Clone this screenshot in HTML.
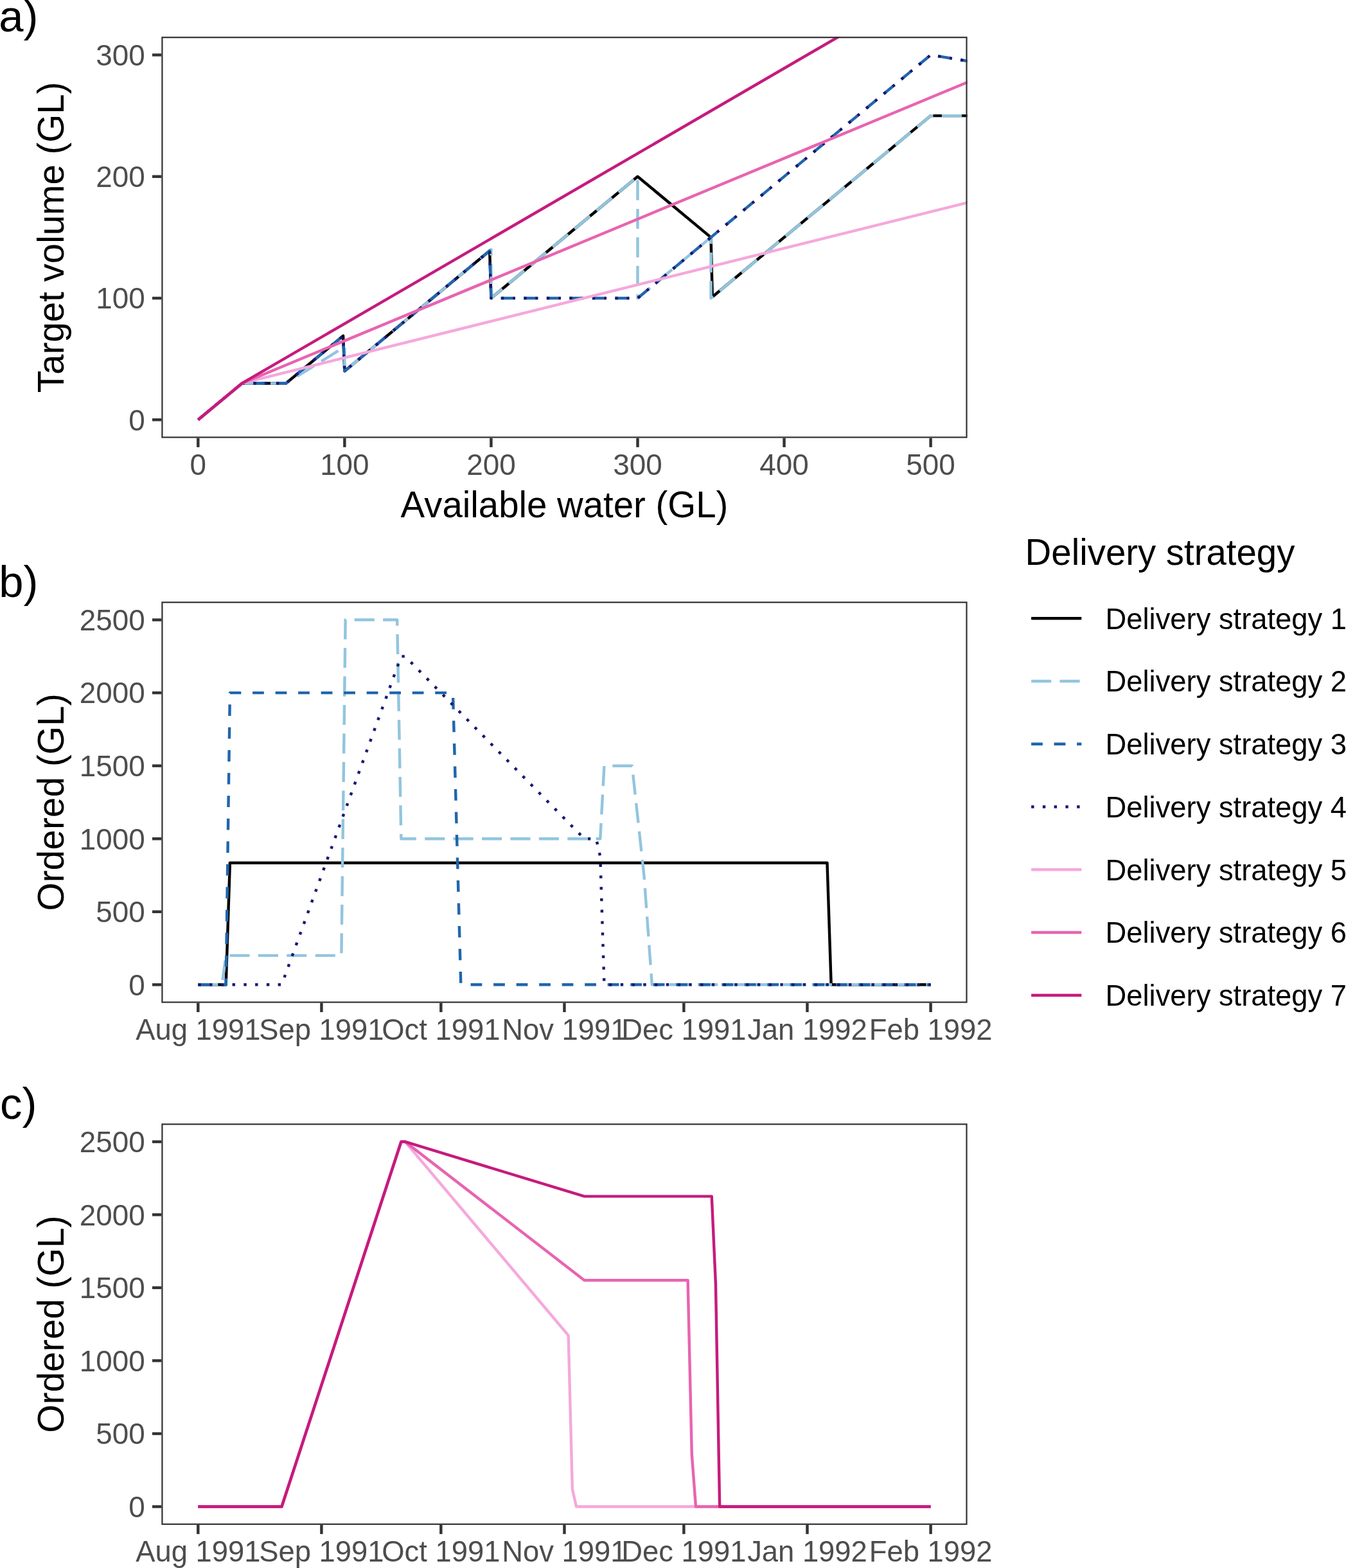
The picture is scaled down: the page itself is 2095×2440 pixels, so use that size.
<!DOCTYPE html>
<html><head><meta charset="utf-8"><title>Delivery strategy</title>
<style>html,body{margin:0;padding:0;background:#fff;}body{width:2095px;height:2440px;overflow:hidden;}svg{display:block;}text{font-family:"Liberation Sans",Arial,Helvetica,sans-serif;}</style>
</head><body>
<svg width="2095" height="2440" viewBox="0 0 2095 2440">
<rect x="0" y="0" width="2095" height="2440" fill="#ffffff"/>
<defs>
<clipPath id="clipa"><rect x="251.30" y="57.10" width="1254.30" height="624.50"/></clipPath>
<clipPath id="clipb"><rect x="251.30" y="936.20" width="1254.30" height="624.50"/></clipPath>
<clipPath id="clipc"><rect x="251.30" y="1748.30" width="1254.30" height="624.60"/></clipPath>
</defs>
<g clip-path="url(#clipa)" fill="none" stroke-width="4.44" stroke-linejoin="round" stroke-linecap="butt">
<path d="M308.31 653.21 L376.73 596.44 L445.15 596.44 L534.09 522.64 L536.37 577.52 L762.14 390.17 L764.42 463.97 L992.48 274.73 L1106.50 369.35 L1108.79 462.08 L1448.59 180.11 L1539.81 180.11" stroke="#000000"/>
<path d="M308.31 653.21 L376.73 596.44 L445.15 596.44 L536.37 539.67 L536.37 577.52 L764.42 388.27 L764.42 463.97 L992.48 274.73 L992.48 463.97 L1106.50 369.35 L1106.50 463.97 L1448.59 180.11 L1585.42 180.11" stroke="#92C5DE" stroke-dasharray="31.080 13.320"/>
<path d="M308.31 653.21 L376.73 596.44 L445.15 596.44 L534.09 522.64 L536.37 577.52 L762.14 390.17 L764.42 463.97 L992.48 463.97 L1448.59 85.49 L1539.81 100.63" stroke="#2166AC" stroke-dasharray="17.760 17.760"/>
<path d="M308.31 653.21 L376.73 596.44 L445.15 596.44 L534.09 522.64 L536.37 577.52 L762.14 390.17 L764.42 463.97 L992.48 463.97 L1448.59 85.49 L1539.81 100.63" stroke="#191970" stroke-dasharray="4.440 13.320"/>
<path d="M308.31 653.21 L376.73 596.44 L1585.42 295.55" stroke="#F5A8DC"/>
<path d="M308.31 653.21 L376.73 596.44 L1585.42 94.95" stroke="#E864B0"/>
<path d="M308.31 653.21 L376.73 596.44 L1585.42 -105.65" stroke="#C51B7D"/>
</g>
<g clip-path="url(#clipb)" fill="none" stroke-width="4.44" stroke-linejoin="round" stroke-linecap="butt">
<path d="M308.31 1532.31 L351.69 1532.31 L357.89 1342.69 L1287.46 1342.69 L1293.66 1532.31 L1448.59 1532.31" stroke="#000000"/>
<path d="M308.31 1532.31 L345.50 1532.31 L351.69 1486.90 L531.41 1486.90 L537.61 964.59 L618.17 964.59 L624.37 1305.22 L934.22 1305.22 L940.42 1191.68 L983.80 1191.68 L1002.39 1362.00 L1014.79 1532.31 L1448.59 1532.31" stroke="#92C5DE" stroke-dasharray="31.080 13.320"/>
<path d="M308.31 1532.31 L351.69 1532.31 L357.89 1078.13 L704.93 1078.13 L717.32 1532.31 L1448.59 1532.31" stroke="#2166AC" stroke-dasharray="17.760 17.760"/>
<path d="M308.31 1532.31 L438.45 1532.31 L624.37 1021.36 L630.56 1021.36 L909.44 1305.22 L928.03 1305.22 L934.22 1332.93 L940.42 1532.31 L1448.59 1532.31" stroke="#191970" stroke-dasharray="4.440 13.320"/>
</g>
<g clip-path="url(#clipc)" fill="none" stroke-width="4.44" stroke-linejoin="round" stroke-linecap="butt">
<path d="M308.31 2344.51 L438.45 2344.51 L624.37 1776.69 L630.56 1776.69 L884.65 2078.09 L890.84 2317.25 L897.04 2344.51 L1448.59 2344.51" stroke="#F5A8DC"/>
<path d="M308.31 2344.51 L438.45 2344.51 L624.37 1776.69 L630.56 1776.69 L909.44 1992.23 L1070.56 1992.23 L1076.76 2262.74 L1082.96 2344.51 L1448.59 2344.51" stroke="#E864B0"/>
<path d="M308.31 2344.51 L438.45 2344.51 L624.37 1776.69 L630.56 1776.69 L909.44 1861.64 L1107.74 1861.64 L1113.94 1998.14 L1120.14 2344.51 L1448.59 2344.51" stroke="#C51B7D"/>
</g>
<rect x="252.41" y="58.21" width="1252.08" height="622.28" fill="none" stroke="#333333" stroke-width="2.22"/>
<rect x="252.41" y="937.31" width="1252.08" height="622.28" fill="none" stroke="#333333" stroke-width="2.22"/>
<rect x="252.41" y="1749.41" width="1252.08" height="622.38" fill="none" stroke="#333333" stroke-width="2.22"/>
<line x1="237.00" y1="653.21" x2="251.30" y2="653.21" stroke="#333333" stroke-width="4.44"/>
<text x="225.70" y="669.51" font-size="45.83" fill="#4D4D4D" text-anchor="end">0</text>
<line x1="237.00" y1="463.97" x2="251.30" y2="463.97" stroke="#333333" stroke-width="4.44"/>
<text x="225.70" y="480.27" font-size="45.83" fill="#4D4D4D" text-anchor="end">100</text>
<line x1="237.00" y1="274.73" x2="251.30" y2="274.73" stroke="#333333" stroke-width="4.44"/>
<text x="225.70" y="291.03" font-size="45.83" fill="#4D4D4D" text-anchor="end">200</text>
<line x1="237.00" y1="85.49" x2="251.30" y2="85.49" stroke="#333333" stroke-width="4.44"/>
<text x="225.70" y="101.79" font-size="45.83" fill="#4D4D4D" text-anchor="end">300</text>
<line x1="308.31" y1="681.60" x2="308.31" y2="695.90" stroke="#333333" stroke-width="4.44"/>
<text x="308.31" y="738.80" font-size="45.83" fill="#4D4D4D" text-anchor="middle">0</text>
<line x1="536.37" y1="681.60" x2="536.37" y2="695.90" stroke="#333333" stroke-width="4.44"/>
<text x="536.37" y="738.80" font-size="45.83" fill="#4D4D4D" text-anchor="middle">100</text>
<line x1="764.42" y1="681.60" x2="764.42" y2="695.90" stroke="#333333" stroke-width="4.44"/>
<text x="764.42" y="738.80" font-size="45.83" fill="#4D4D4D" text-anchor="middle">200</text>
<line x1="992.48" y1="681.60" x2="992.48" y2="695.90" stroke="#333333" stroke-width="4.44"/>
<text x="992.48" y="738.80" font-size="45.83" fill="#4D4D4D" text-anchor="middle">300</text>
<line x1="1220.53" y1="681.60" x2="1220.53" y2="695.90" stroke="#333333" stroke-width="4.44"/>
<text x="1220.53" y="738.80" font-size="45.83" fill="#4D4D4D" text-anchor="middle">400</text>
<line x1="1448.59" y1="681.60" x2="1448.59" y2="695.90" stroke="#333333" stroke-width="4.44"/>
<text x="1448.59" y="738.80" font-size="45.83" fill="#4D4D4D" text-anchor="middle">500</text>
<line x1="237.00" y1="1532.31" x2="251.30" y2="1532.31" stroke="#333333" stroke-width="4.44"/>
<text x="225.70" y="1548.61" font-size="45.83" fill="#4D4D4D" text-anchor="end">0</text>
<line x1="237.00" y1="1418.77" x2="251.30" y2="1418.77" stroke="#333333" stroke-width="4.44"/>
<text x="225.70" y="1435.07" font-size="45.83" fill="#4D4D4D" text-anchor="end">500</text>
<line x1="237.00" y1="1305.22" x2="251.30" y2="1305.22" stroke="#333333" stroke-width="4.44"/>
<text x="225.70" y="1321.52" font-size="45.83" fill="#4D4D4D" text-anchor="end">1000</text>
<line x1="237.00" y1="1191.68" x2="251.30" y2="1191.68" stroke="#333333" stroke-width="4.44"/>
<text x="225.70" y="1207.98" font-size="45.83" fill="#4D4D4D" text-anchor="end">1500</text>
<line x1="237.00" y1="1078.13" x2="251.30" y2="1078.13" stroke="#333333" stroke-width="4.44"/>
<text x="225.70" y="1094.43" font-size="45.83" fill="#4D4D4D" text-anchor="end">2000</text>
<line x1="237.00" y1="964.59" x2="251.30" y2="964.59" stroke="#333333" stroke-width="4.44"/>
<text x="225.70" y="980.89" font-size="45.83" fill="#4D4D4D" text-anchor="end">2500</text>
<line x1="308.31" y1="1560.70" x2="308.31" y2="1575.00" stroke="#333333" stroke-width="4.44"/>
<text x="308.31" y="1617.90" font-size="45.83" fill="#4D4D4D" text-anchor="middle" textLength="194.27" lengthAdjust="spacingAndGlyphs">Aug 1991</text>
<line x1="500.42" y1="1560.70" x2="500.42" y2="1575.00" stroke="#333333" stroke-width="4.44"/>
<text x="500.42" y="1617.90" font-size="45.83" fill="#4D4D4D" text-anchor="middle" textLength="194.27" lengthAdjust="spacingAndGlyphs">Sep 1991</text>
<line x1="686.34" y1="1560.70" x2="686.34" y2="1575.00" stroke="#333333" stroke-width="4.44"/>
<text x="686.34" y="1617.90" font-size="45.83" fill="#4D4D4D" text-anchor="middle" textLength="184.12" lengthAdjust="spacingAndGlyphs">Oct 1991</text>
<line x1="878.45" y1="1560.70" x2="878.45" y2="1575.00" stroke="#333333" stroke-width="4.44"/>
<text x="878.45" y="1617.90" font-size="45.83" fill="#4D4D4D" text-anchor="middle" textLength="194.23" lengthAdjust="spacingAndGlyphs">Nov 1991</text>
<line x1="1064.36" y1="1560.70" x2="1064.36" y2="1575.00" stroke="#333333" stroke-width="4.44"/>
<text x="1064.36" y="1617.90" font-size="45.83" fill="#4D4D4D" text-anchor="middle" textLength="194.23" lengthAdjust="spacingAndGlyphs">Dec 1991</text>
<line x1="1256.48" y1="1560.70" x2="1256.48" y2="1575.00" stroke="#333333" stroke-width="4.44"/>
<text x="1256.48" y="1617.90" font-size="45.83" fill="#4D4D4D" text-anchor="middle" textLength="186.69" lengthAdjust="spacingAndGlyphs">Jan 1992</text>
<line x1="1448.59" y1="1560.70" x2="1448.59" y2="1575.00" stroke="#333333" stroke-width="4.44"/>
<text x="1448.59" y="1617.90" font-size="45.83" fill="#4D4D4D" text-anchor="middle" textLength="191.72" lengthAdjust="spacingAndGlyphs">Feb 1992</text>
<line x1="237.00" y1="2344.51" x2="251.30" y2="2344.51" stroke="#333333" stroke-width="4.44"/>
<text x="225.70" y="2360.81" font-size="45.83" fill="#4D4D4D" text-anchor="end">0</text>
<line x1="237.00" y1="2230.95" x2="251.30" y2="2230.95" stroke="#333333" stroke-width="4.44"/>
<text x="225.70" y="2247.25" font-size="45.83" fill="#4D4D4D" text-anchor="end">500</text>
<line x1="237.00" y1="2117.38" x2="251.30" y2="2117.38" stroke="#333333" stroke-width="4.44"/>
<text x="225.70" y="2133.68" font-size="45.83" fill="#4D4D4D" text-anchor="end">1000</text>
<line x1="237.00" y1="2003.82" x2="251.30" y2="2003.82" stroke="#333333" stroke-width="4.44"/>
<text x="225.70" y="2020.12" font-size="45.83" fill="#4D4D4D" text-anchor="end">1500</text>
<line x1="237.00" y1="1890.25" x2="251.30" y2="1890.25" stroke="#333333" stroke-width="4.44"/>
<text x="225.70" y="1906.55" font-size="45.83" fill="#4D4D4D" text-anchor="end">2000</text>
<line x1="237.00" y1="1776.69" x2="251.30" y2="1776.69" stroke="#333333" stroke-width="4.44"/>
<text x="225.70" y="1792.99" font-size="45.83" fill="#4D4D4D" text-anchor="end">2500</text>
<line x1="308.31" y1="2372.90" x2="308.31" y2="2387.20" stroke="#333333" stroke-width="4.44"/>
<text x="308.31" y="2430.10" font-size="45.83" fill="#4D4D4D" text-anchor="middle" textLength="194.27" lengthAdjust="spacingAndGlyphs">Aug 1991</text>
<line x1="500.42" y1="2372.90" x2="500.42" y2="2387.20" stroke="#333333" stroke-width="4.44"/>
<text x="500.42" y="2430.10" font-size="45.83" fill="#4D4D4D" text-anchor="middle" textLength="194.27" lengthAdjust="spacingAndGlyphs">Sep 1991</text>
<line x1="686.34" y1="2372.90" x2="686.34" y2="2387.20" stroke="#333333" stroke-width="4.44"/>
<text x="686.34" y="2430.10" font-size="45.83" fill="#4D4D4D" text-anchor="middle" textLength="184.12" lengthAdjust="spacingAndGlyphs">Oct 1991</text>
<line x1="878.45" y1="2372.90" x2="878.45" y2="2387.20" stroke="#333333" stroke-width="4.44"/>
<text x="878.45" y="2430.10" font-size="45.83" fill="#4D4D4D" text-anchor="middle" textLength="194.23" lengthAdjust="spacingAndGlyphs">Nov 1991</text>
<line x1="1064.36" y1="2372.90" x2="1064.36" y2="2387.20" stroke="#333333" stroke-width="4.44"/>
<text x="1064.36" y="2430.10" font-size="45.83" fill="#4D4D4D" text-anchor="middle" textLength="194.23" lengthAdjust="spacingAndGlyphs">Dec 1991</text>
<line x1="1256.48" y1="2372.90" x2="1256.48" y2="2387.20" stroke="#333333" stroke-width="4.44"/>
<text x="1256.48" y="2430.10" font-size="45.83" fill="#4D4D4D" text-anchor="middle" textLength="186.69" lengthAdjust="spacingAndGlyphs">Jan 1992</text>
<line x1="1448.59" y1="2372.90" x2="1448.59" y2="2387.20" stroke="#333333" stroke-width="4.44"/>
<text x="1448.59" y="2430.10" font-size="45.83" fill="#4D4D4D" text-anchor="middle" textLength="191.72" lengthAdjust="spacingAndGlyphs">Feb 1992</text>
<text x="878.45" y="804.50" font-size="57.29" fill="#000" text-anchor="middle" textLength="509.68" lengthAdjust="spacingAndGlyphs">Available water (GL)</text>
<text transform="translate(98.90 369.35) rotate(-90)" font-size="57.29" fill="#000" text-anchor="middle" textLength="483.95" lengthAdjust="spacingAndGlyphs">Target volume (GL)</text>
<text transform="translate(98.90 1248.45) rotate(-90)" font-size="57.29" fill="#000" text-anchor="middle" textLength="338.28" lengthAdjust="spacingAndGlyphs">Ordered (GL)</text>
<text transform="translate(98.90 2060.60) rotate(-90)" font-size="57.29" fill="#000" text-anchor="middle" textLength="338.28" lengthAdjust="spacingAndGlyphs">Ordered (GL)</text>
<text x="28.70" y="49.40" font-size="68.75" fill="#000" text-anchor="middle">a)</text>
<text x="28.70" y="928.60" font-size="68.75" fill="#000" text-anchor="middle">b)</text>
<text x="28.70" y="1740.60" font-size="68.75" fill="#000" text-anchor="middle">c)</text>
<text x="1595.60" y="878.70" font-size="57.29" fill="#000" textLength="419.80" lengthAdjust="spacingAndGlyphs">Delivery strategy</text>
<path d="M1605.10 962.30 L1683.30 962.30" stroke="#000000" stroke-width="4.44" fill="none"/>
<text x="1720.60" y="978.70" font-size="45.83" fill="#000" textLength="375.33" lengthAdjust="spacingAndGlyphs">Delivery strategy 1</text>
<path d="M1605.10 1060.05 L1683.30 1060.05" stroke="#92C5DE" stroke-width="4.44" fill="none" stroke-dasharray="31.080 13.320"/>
<text x="1720.60" y="1076.45" font-size="45.83" fill="#000" textLength="375.33" lengthAdjust="spacingAndGlyphs">Delivery strategy 2</text>
<path d="M1605.10 1157.80 L1683.30 1157.80" stroke="#2166AC" stroke-width="4.44" fill="none" stroke-dasharray="17.760 17.760"/>
<text x="1720.60" y="1174.20" font-size="45.83" fill="#000" textLength="375.33" lengthAdjust="spacingAndGlyphs">Delivery strategy 3</text>
<path d="M1605.10 1255.55 L1683.30 1255.55" stroke="#191970" stroke-width="4.44" fill="none" stroke-dasharray="4.440 13.320"/>
<text x="1720.60" y="1271.95" font-size="45.83" fill="#000" textLength="375.33" lengthAdjust="spacingAndGlyphs">Delivery strategy 4</text>
<path d="M1605.10 1353.30 L1683.30 1353.30" stroke="#F5A8DC" stroke-width="4.44" fill="none"/>
<text x="1720.60" y="1369.70" font-size="45.83" fill="#000" textLength="375.33" lengthAdjust="spacingAndGlyphs">Delivery strategy 5</text>
<path d="M1605.10 1451.05 L1683.30 1451.05" stroke="#E864B0" stroke-width="4.44" fill="none"/>
<text x="1720.60" y="1467.45" font-size="45.83" fill="#000" textLength="375.33" lengthAdjust="spacingAndGlyphs">Delivery strategy 6</text>
<path d="M1605.10 1548.80 L1683.30 1548.80" stroke="#C51B7D" stroke-width="4.44" fill="none"/>
<text x="1720.60" y="1565.20" font-size="45.83" fill="#000" textLength="375.33" lengthAdjust="spacingAndGlyphs">Delivery strategy 7</text>
</svg>
</body></html>
